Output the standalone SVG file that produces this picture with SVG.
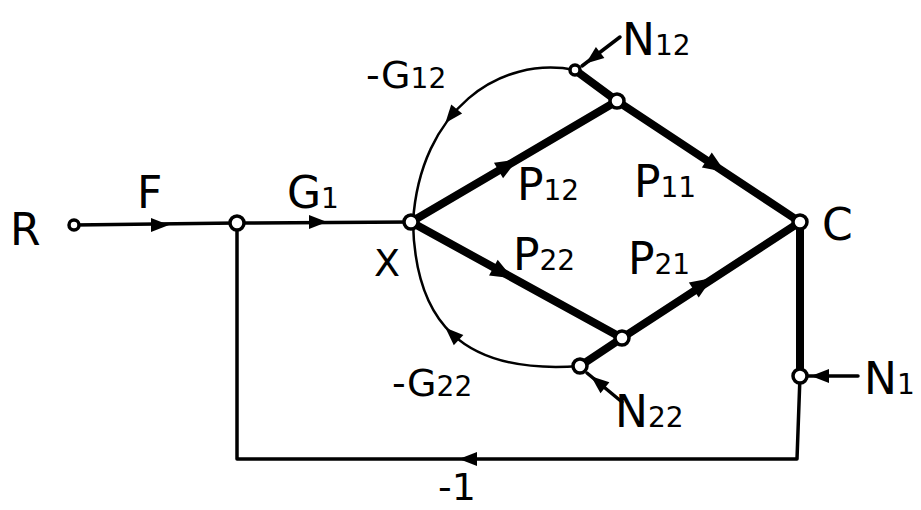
<svg xmlns="http://www.w3.org/2000/svg" width="921" height="510" viewBox="0 0 921 510">
<style>
.thin{fill:none;stroke:#000;stroke-width:3.5;stroke-linecap:round;stroke-linejoin:round}
.thick{fill:none;stroke:#000;stroke-width:8;stroke-linecap:round}
.arc{fill:none;stroke:#000;stroke-width:2.5}
.node{fill:#fff;stroke:#000;stroke-width:3.5}
.lbl{font-family:"DejaVu Sans","Liberation Sans",sans-serif;font-size:44px;fill:#000}
.mid{font-size:38px}
.sub{font-size:28px}
</style>
<defs>
<path id="ah" d="M9,0 L-9,-7 L-9,7 Z" fill="#000"/>
<path id="ahb" d="M11,0 L-11,-9 L-11,9 Z" fill="#000"/>
</defs>
<rect width="921" height="510" fill="#fff"/>
<g id="connectors">
<line class="thin" x1="74" y1="225" x2="237" y2="223"/>
<line class="thin" x1="237" y1="223" x2="411" y2="222"/>
<polyline class="thin" points="237,223 237,459 797,459 800,376"/>
<line class="thick" x1="411" y1="222" x2="617" y2="101"/>
<line class="thick" x1="617" y1="101" x2="800" y2="222"/>
<line class="thick" x1="411" y1="222" x2="622" y2="338"/>
<line class="thick" x1="622" y1="338" x2="800" y2="222"/>
<line class="thick" x1="800" y1="222" x2="800" y2="376"/>
<line class="thick" x1="617" y1="101" x2="575" y2="70"/>
<line class="thick" x1="622" y1="338" x2="580" y2="366"/>
<path class="arc" d="M575,70 C500,55 420,110 413,222"/>
<path class="arc" d="M413,222 C415,320 460,375 580,366"/>
<line class="thin" x1="620" y1="37" x2="582" y2="66"/>
<line class="thin" x1="622" y1="402" x2="587" y2="373"/>
<line class="thin" x1="858" y1="376" x2="806" y2="376"/>
<use href="#ah" transform="translate(160,225)"/>
<use href="#ah" transform="translate(318,222)"/>
<use href="#ahb" transform="translate(508,165) rotate(-30.4)"/>
<use href="#ahb" transform="translate(716,166) rotate(33.5)"/>
<use href="#ahb" transform="translate(503,273) rotate(28.8)"/>
<use href="#ahb" transform="translate(703,284) rotate(-33.1)"/>
<use href="#ah" transform="translate(468,459) rotate(180)"/>
<use href="#ah" transform="translate(451,116) rotate(129)"/>
<use href="#ah" transform="translate(452,334) rotate(-137)"/>
<use href="#ah" transform="translate(593,58) rotate(142.6)"/>
<use href="#ah" transform="translate(598,382) rotate(-140.5)"/>
<use href="#ah" transform="translate(820,376) rotate(180)"/>
</g>
<g id="R"><circle class="node" cx="74" cy="225" r="5"/><text class="lbl" x="10" y="245">R</text></g>
<g id="n1"><circle class="node" cx="237" cy="223" r="7"/></g>
<g id="X"><circle class="node" cx="411" cy="222" r="7"/><text class="lbl mid" x="374" y="276">X</text></g>
<g id="top"><circle class="node" cx="617" cy="101" r="7"/></g>
<g id="N12node"><circle class="node" cx="575" cy="70" r="5"/></g>
<g id="C"><circle class="node" cx="800" cy="222" r="7"/><text class="lbl" x="822" y="240">C</text></g>
<g id="bottom"><circle class="node" cx="622" cy="338" r="7"/></g>
<g id="N22node"><circle class="node" cx="580" cy="366" r="7"/></g>
<g id="N1node"><circle class="node" cx="800" cy="376" r="7"/></g>
<g id="labels">
<text class="lbl" x="137" y="208">F</text>
<text class="lbl" x="287" y="208">G<tspan class="sub">1</tspan></text>
<text class="lbl mid" x="366" y="88">-G<tspan class="sub">12</tspan></text>
<text class="lbl mid" x="392" y="396">-G<tspan class="sub">22</tspan></text>
<text class="lbl" x="622" y="55">N<tspan class="sub">12</tspan></text>
<text class="lbl" x="615" y="427">N<tspan class="sub">22</tspan></text>
<text class="lbl" x="864" y="394">N<tspan class="sub">1</tspan></text>
<text class="lbl" x="517" y="200">P<tspan class="sub">12</tspan></text>
<text class="lbl" x="634" y="197">P<tspan class="sub">11</tspan></text>
<text class="lbl" x="513" y="270">P<tspan class="sub">22</tspan></text>
<text class="lbl" x="628" y="274">P<tspan class="sub">21</tspan></text>
<text class="lbl mid" x="438" y="500">-1</text>
</g>
</svg>
